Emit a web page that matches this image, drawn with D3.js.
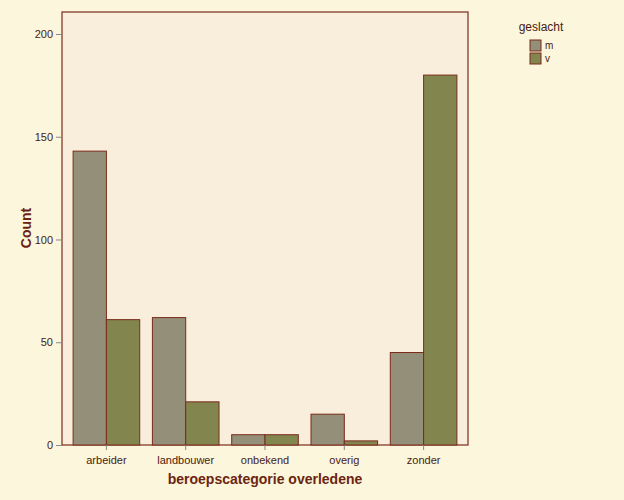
<!DOCTYPE html><html><head><script src="https://cdn.jsdelivr.net/npm/d3@7"></script>
<style>body{margin:0;background:#fbf6dc}</style></head><body><svg id="c" width="624" height="500"></svg>
<script>
const categories=["arbeider","landbouwer","onbekend","overig","zonder"];
const seriesNames=["m","v"];
const mValues=[143,62,5,15,45];
const vValues=[61,21,5,2,180];
const yTicks=[0,50,100,150,200];
const colors={m:"#948f78",v:"#83854f"};
const border="#7a2a1a";
const svg=d3.select("#c");
svg.append("rect").attr("width",624).attr("height",500).attr("fill","#fbf6dc");
const L=62,R=468,T=12,B=445;
const x=d3.scaleBand().domain(categories).range([L,R]).paddingInner(0.16).paddingOuter(0.14);
const xs=d3.scaleBand().domain(seriesNames).range([0,x.bandwidth()]);
const y=d3.scaleLinear().domain([0,210.7]).range([B,T]);
svg.append("rect").attr("x",L).attr("y",T).attr("width",R-L).attr("height",B-T).attr("fill","#f8eedb").attr("stroke",border).attr("stroke-width",1.2);
const data=categories.map((c,i)=>({c,m:mValues[i],v:vValues[i]}));
const g=svg.append("g");
data.forEach(d=>seriesNames.forEach(s=>{
 g.append("rect").attr("x",x(d.c)+xs(s)).attr("y",y(d[s])).attr("width",xs.bandwidth()).attr("height",B-y(d[s]))
  .attr("fill",colors[s]).attr("stroke",border).attr("stroke-width",1);
}));
const ya=svg.append("g").attr("transform",`translate(${L},0)`).call(d3.axisLeft(y).tickValues(yTicks).tickSize(6).tickPadding(3));
const xa=svg.append("g").attr("transform",`translate(0,${B})`).call(d3.axisBottom(x).tickSize(5).tickPadding(6));
[ya,xa].forEach(a=>{a.select(".domain").remove();a.selectAll("line").attr("stroke","#888");a.selectAll("text").attr("fill","#4a2010").style("font-family","Liberation Sans, Arial").style("font-size","11px");});
svg.append("text").attr("x",265).attr("y",484).attr("text-anchor","middle").attr("fill","#6b2410").style("font","bold 14px Liberation Sans, Arial").text("beroepscategorie overledene");
svg.append("text").attr("transform","translate(31,228) rotate(-90)").attr("text-anchor","middle").attr("fill","#6b2410").style("font","bold 14px Liberation Sans, Arial").text("Count");
svg.append("text").attr("x",541).attr("y",31).attr("text-anchor","middle").attr("fill","#4a2010").style("font","12px Liberation Sans, Arial").text("geslacht");
seriesNames.forEach((s,i)=>{
 svg.append("rect").attr("x",530).attr("y",40+i*13).attr("width",11).attr("height",11).attr("fill",colors[s]).attr("stroke",border);
 svg.append("text").attr("x",545).attr("y",49+i*13).attr("fill","#4a2010").style("font","10px Liberation Sans, Arial").text(s);
});
</script></body></html>
